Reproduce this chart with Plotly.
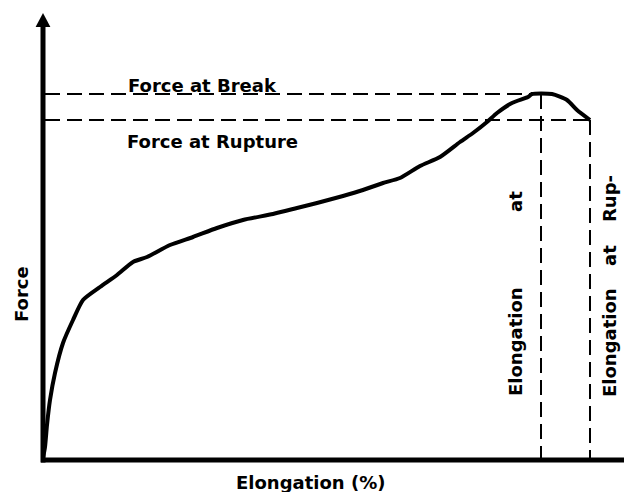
import plotly.graph_objects as go

# Force-elongation curve (elongation in %, force in arbitrary units)
elongation = [0.0, 0.1, 0.2, 0.35, 0.6, 1.0, 1.5, 2.0, 2.85, 3.7, 4.5, 5.2, 6.35, 7.5, 8.7,
              10.0, 11.5, 12.7, 13.7, 15.0, 16.0, 17.0, 17.85, 18.85, 19.85, 20.85, 21.5,
              22.2, 22.7, 23.45, 24.25, 24.45, 25.45, 26.2, 26.7, 27.35]
force = [0.5, 3.25, 8.75, 15.0, 21.75, 29.25, 35.0, 40.0, 43.25, 46.25, 49.5, 50.75, 53.75,
         55.75, 58.0, 60.0, 61.5, 63.0, 64.25, 66.0, 67.5, 69.25, 70.5, 73.5, 75.75, 79.5,
         81.75, 84.5, 86.75, 89.25, 90.75, 91.5, 91.5, 90.0, 87.5, 85.0]

break_elong = 24.9
break_force = 91.5
rupture_elong = 27.35
rupture_force = 85.0

x_title = "Elongation (%)"
y_title = "Force"
label_break = "Force at Break"
label_rupture = "Force at Rupture"

# axis extents (data units)
x_min, x_max = -1.75, 29.45
y_min, y_max = -8.0, 113.0
y_axis_top = 108.25      # arrow base on the force axis
y_arrow_tip = 111.75
x_axis_end = 29.2        # arrow base on the elongation axis
x_arrow_tip = 30.2

FONT = "DejaVu Sans"
fs = 18

fig = go.Figure()

fig.add_trace(go.Scatter(x=elongation, y=force, mode="lines",
                         line=dict(color="black", width=4, shape="spline", smoothing=0.6),
                         hoverinfo="skip", showlegend=False))

dash = "15px,7px"
shapes = [
    # dashed reference lines
    dict(type="line", x0=0.1, y0=break_force, x1=break_elong, y1=break_force,
         line=dict(color="black", width=2, dash=dash)),
    dict(type="line", x0=0.1, y0=rupture_force, x1=rupture_elong, y1=rupture_force,
         line=dict(color="black", width=2, dash=dash)),
    dict(type="line", x0=break_elong, y0=break_force, x1=break_elong, y1=0.5,
         line=dict(color="black", width=2, dash=dash)),
    dict(type="line", x0=rupture_elong, y0=rupture_force, x1=rupture_elong, y1=0.5,
         line=dict(color="black", width=2, dash=dash)),
    # axes
    dict(type="line", x0=0, y0=-0.6, x1=0, y1=y_axis_top, line=dict(color="black", width=5)),
    dict(type="line", x0=-0.1, y0=0, x1=x_axis_end, y1=0, line=dict(color="black", width=5)),
    # arrow heads
    dict(type="path", path=f"M -0.37,{y_axis_top} L 0.37,{y_axis_top} L 0,{y_arrow_tip} Z",
         fillcolor="black", line=dict(color="black", width=0)),
    dict(type="path", path=f"M {x_axis_end},-2.5 L {x_axis_end},2.5 L {x_arrow_tip},0 Z",
         fillcolor="black", line=dict(color="black", width=0)),
]
fig.update_layout(shapes=shapes)

def ann(text, x, y, angle=0):
    fig.add_annotation(x=x, y=y, text=text, showarrow=False, textangle=angle,
                       font=dict(family=FONT, size=fs, color="black", weight="bold"),
                       xanchor="center", yanchor="middle")

ann(x_title, 13.35, -5.5)
ann(y_title, -1.1, 41.5, -90)
ann(label_break, 7.95, 93.75)
ann(label_rupture, 8.45, 79.75)
ann("Elongation", 23.6, 29.5, -90)
ann("at", 23.6, 64.5, -90)
ann("Elongation", 28.3, 29.25, -90)
ann("at", 28.3, 51.0, -90)
ann("Rup-", 28.3, 65.25, -90)

fig.update_xaxes(range=[x_min, x_max], visible=False, showgrid=False, zeroline=False)
fig.update_yaxes(range=[y_min, y_max], visible=False, showgrid=False, zeroline=False)
fig.update_layout(width=624, height=484, margin=dict(l=0, r=0, t=0, b=0),
                  plot_bgcolor="white", paper_bgcolor="white", showlegend=False)

fig.write_html("out.html")
